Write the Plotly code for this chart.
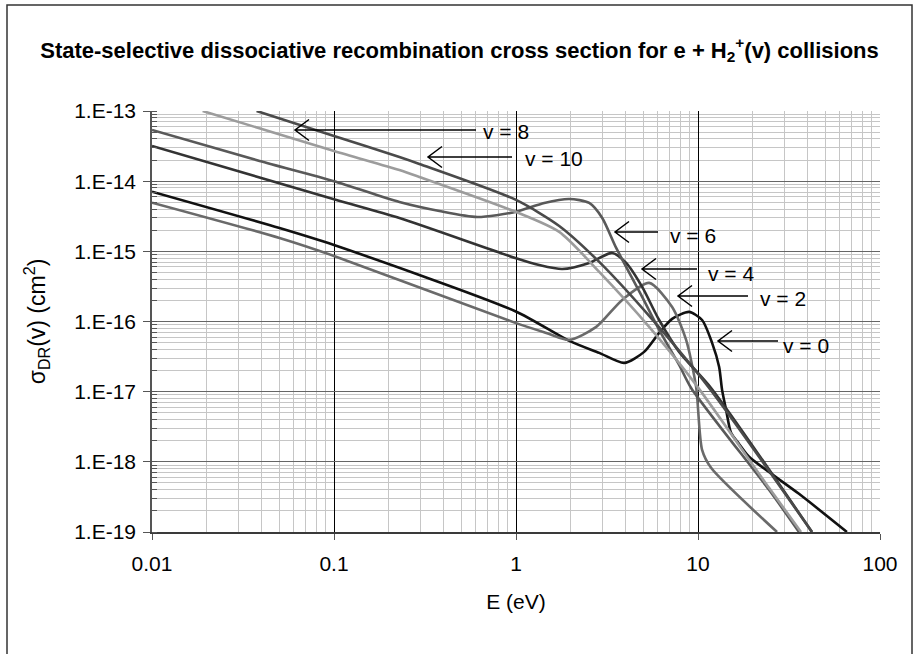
import plotly.graph_objects as go

# ---------------- data ----------------
E_v0 = [0.01, 0.0502, 0.1, 0.991, 1.961, 2.866, 3.93, 5.06, 6.116, 7.21, 8.937, 10.53, 11.95, 13.06, 13.56, 14.27, 15.19, 16.81, 19.08, 35.87, 65.81]
S_v0 = [7.09e-15, 2.15e-15, 1.23e-15, 1.40e-16, 5.29e-17, 3.57e-17, 2.57e-17, 3.69e-17, 6.88e-17, 1.09e-16, 1.37e-16, 1.05e-16, 4.96e-17, 2.26e-17, 1.06e-17, 5.5e-18, 2.59e-18, 1.80e-18, 1.18e-18, 3.5e-19, 1.0e-19]

E_v2 = [0.01, 0.0502, 0.1, 0.991, 1.467, 1.961, 2.759, 3.832, 5.39, 7.21, 8.604, 9.763, 10.53, 11.80, 27.18]
S_v2 = [4.94e-15, 1.55e-15, 8.60e-16, 9.55e-17, 6.88e-17, 5.47e-17, 8.38e-17, 2.03e-16, 3.55e-16, 1.61e-16, 5.47e-17, 1.17e-17, 1.48e-18, 8.21e-19, 1.0e-19]

E_v4 = [0.01, 0.1, 0.2288, 0.991, 1.342, 1.795, 2.525, 3.377, 4.031, 4.934, 6.116, 7.877, 11.80, 42.29]
S_v4 = [3.17e-14, 5.52e-15, 2.99e-15, 8.05e-16, 6.40e-16, 5.61e-16, 6.84e-16, 9.49e-16, 6.84e-16, 3.11e-16, 1.05e-16, 3.69e-17, 1.13e-17, 1.0e-19]

E_v6 = [0.01, 0.039, 0.1, 0.2288, 0.3793, 0.613, 0.991, 1.43, 1.961, 2.525, 2.977, 3.552, 4.934, 6.116, 7.877, 9.165, 24.56, 35.87]
S_v6 = [5.36e-14, 1.94e-14, 1.0e-14, 5.05e-15, 3.76e-15, 3.09e-15, 3.64e-15, 4.89e-15, 5.58e-15, 4.89e-15, 2.99e-15, 1.118e-15, 2.24e-16, 7.59e-17, 2.41e-17, 1.13e-17, 3.99e-19, 1.0e-19]

E_v8 = [0.03755, 0.1, 0.2288, 0.2945, 1.0, 1.728, 2.866, 5.39, 11.51, 42.29]
S_v8 = [1.0e-13, 4.4e-14, 2.21e-14, 1.76e-14, 5.40e-15, 2.30e-15, 7.06e-16, 1.20e-16, 1.13e-17, 1.0e-19]

E_v10 = [0.01898, 0.1, 0.2288, 0.2945, 1.0, 1.728, 2.866, 5.39, 9.763, 24.56, 36.81]
S_v10 = [1.0e-13, 2.69e-14, 1.44e-14, 1.15e-14, 3.64e-15, 1.89e-15, 5.09e-16, 8.38e-17, 1.25e-17, 4.26e-19, 1.0e-19]

X_TICKS = [0.01, 0.1, 1, 10, 100]
X_LABELS = ["0.01", "0.1", "1", "10", "100"]
Y_TICKS = [1e-19, 1e-18, 1e-17, 1e-16, 1e-15, 1e-14, 1e-13]
Y_LABELS = ["1.E-19", "1.E-18", "1.E-17", "1.E-16", "1.E-15", "1.E-14", "1.E-13"]

LABELS = ["v = 0", "v = 2", "v = 4", "v = 6", "v = 8", "v = 10"]

# ---------------- figure ----------------
FONT = "Liberation Sans, Arial, sans-serif"
W, H = 919, 654
L, R, T, B = 152, 39, 111, 122
PW, PH = W - L - R, H - T - B

def px(x):
    return (x - L) / PW

def py(y):
    return (H - B - y) / PH

series = [
    (E_v0, S_v0, "#111111", LABELS[0]),
    (E_v2, S_v2, "#6a6a6a", LABELS[1]),
    (E_v4, S_v4, "#333333", LABELS[2]),
    (E_v6, S_v6, "#595959", LABELS[3]),
    (E_v8, S_v8, "#4a4a4a", LABELS[4]),
    (E_v10, S_v10, "#9c9c9c", LABELS[5]),
]

fig = go.Figure()
for xs, ys, col, name in series:
    fig.add_trace(go.Scatter(x=xs, y=ys, mode="lines", name=name,
                             line=dict(color=col, width=2.6, shape="spline", smoothing=0.7),
                             showlegend=False, hoverinfo="skip"))

# arrow label geometry (pixel layout positions): tip x, tip y, line end x, text x, text y
arrows = [
    (295, 130, 476, LABELS[4], 481, 131),
    (428, 157, 512, LABELS[5], 523, 158),
    (615, 232, 658, LABELS[3], 668, 235),
    (642, 269, 697, LABELS[2], 706, 273),
    (678, 296, 748, LABELS[1], 758, 298),
    (718, 341, 778, LABELS[0], 781, 345),
]

shapes = []
annotations = []
for tx, ty, ex, lab, lx, ly in arrows:
    path = (f"M {px(tx+14)},{py(ty-10.5)} L {px(tx)},{py(ty)} L {px(tx+14)},{py(ty+10.5)} "
            f"M {px(tx)},{py(ty)} L {px(ex)},{py(ty)}")
    shapes.append(dict(type="path", xref="paper", yref="paper", path=path,
                       line=dict(color="#000", width=1.5)))
    annotations.append(dict(xref="paper", yref="paper", x=px(lx), y=py(ly), text=lab,
                            showarrow=False, xanchor="left", yanchor="middle",
                            font=dict(size=21, color="#000", family=FONT)))

# outer chart border
shapes.append(dict(type="rect", xref="paper", yref="paper",
                   x0=px(7), x1=px(912), y0=py(5), y1=py(700),
                   line=dict(color="#333", width=1.5), fillcolor="rgba(0,0,0,0)"))

fig.update_layout(
    width=W, height=H,
    margin=dict(l=L, r=R, t=T, b=B),
    paper_bgcolor="white", plot_bgcolor="white",
    font=dict(family=FONT, color="#000"),
    title=dict(text="<b>State-selective dissociative recombination cross section for e + H<sub>2</sub><sup>+</sup>(v) collisions</b>",
               x=0.5, xanchor="center", xref="container", y=1 - 50 / H, yanchor="middle", yref="container",
               font=dict(size=22, color="#000", family=FONT)),
    shapes=shapes, annotations=annotations,
)

fig.update_xaxes(type="log", range=[-2, 2], tickmode="array", tickvals=X_TICKS, ticktext=X_LABELS,
                 title=dict(text="E (eV)", font=dict(size=21, color="#000", family=FONT), standoff=20),
                 showgrid=True, gridcolor="#000", gridwidth=1,
                 ticks="outside", ticklen=6, tickcolor="#555", tickwidth=1,
                 showline=True, linecolor="#3a3a3a", linewidth=2, zeroline=False,
                 tickfont=dict(size=21, color="#000", family=FONT), ticklabelstandoff=6,
                 minor=dict(tickmode="linear", dtick="D1", showgrid=True, gridcolor="#c6c6c6", gridwidth=1))

fig.update_yaxes(type="log", range=[-19, -13], tickmode="array", tickvals=Y_TICKS, ticktext=Y_LABELS,
                 title=dict(text="σ<sub>DR</sub>(v) (cm<sup>2</sup>)", font=dict(size=23, color="#000", family=FONT), standoff=22),
                 showgrid=True, gridcolor="#666", gridwidth=1,
                 ticks="outside", ticklen=7, tickcolor="#555", tickwidth=1,
                 showline=True, linecolor="#555", linewidth=1.5, zeroline=False,
                 tickfont=dict(size=21, color="#000", family=FONT), ticklabelstandoff=3,
                 minor=dict(tickmode="linear", dtick="D1", showgrid=True, gridcolor="#c6c6c6", gridwidth=1,
                            ticks="inside", ticklen=5, tickcolor="#555"))

fig.write_html("out.html", config={"displayModeBar": False},
               post_script="document.body.style.margin='0px';document.body.style.overflow='hidden';")
